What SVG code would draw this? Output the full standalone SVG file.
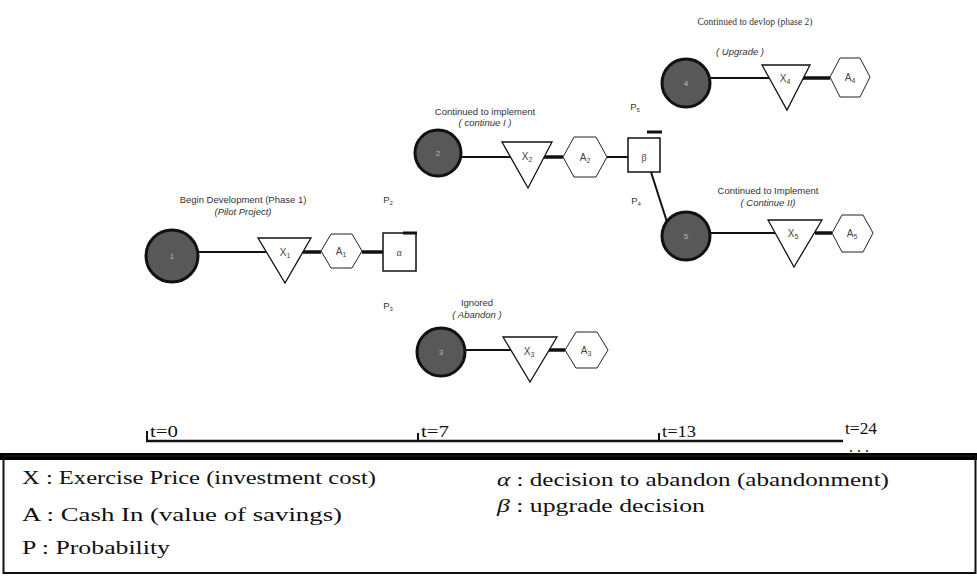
<svg xmlns="http://www.w3.org/2000/svg" width="977" height="577" viewBox="0 0 977 577">
<style>
.node{fill:#585858;stroke:#111;stroke-width:3}
.num{font-family:"Liberation Sans",Arial,sans-serif;font-size:8px;fill:#bbb;text-anchor:middle}
.tri{fill:#fff;stroke:#111;stroke-width:1.3}
.hex{fill:#fff;stroke:#222;stroke-width:1}
.sq{fill:#fff;stroke:#111;stroke-width:1.5}
.lbl{font-family:"Liberation Sans",Arial,sans-serif;font-size:9.5px;fill:#333;text-anchor:middle}
.it{font-style:italic}
.sym{font-family:"Liberation Sans",Arial,sans-serif;font-size:10px;fill:#444;text-anchor:middle}
.ser{font-family:"Liberation Serif","Times New Roman",serif}
.thin{stroke:#111;stroke-width:2;fill:none}
.thick{stroke:#111;stroke-width:3.5;fill:none}
.leg{font-family:"Liberation Serif","Times New Roman",serif;font-size:18px;fill:#111}
.tl{font-family:"Liberation Serif","Times New Roman",serif;font-size:16px;fill:#111}
</style>
<rect width="977" height="577" fill="#fff"/>
<g id="connectors">
<line class="thin" x1="197" y1="252" x2="266" y2="252"/>
<line class="thick" x1="303" y1="252" x2="321" y2="252"/>
<line class="thick" x1="362" y1="252" x2="383" y2="252"/>
<line class="thin" x1="460" y1="157" x2="510" y2="157"/>
<line class="thick" x1="544" y1="157" x2="563" y2="157"/>
<line class="thin" x1="607" y1="157" x2="628" y2="157"/>
<line class="thin" x1="651" y1="172" x2="667" y2="222"/>
<line class="thin" x1="465" y1="350" x2="511" y2="350"/>
<line class="thick" x1="549" y1="350" x2="565" y2="350"/>
<line class="thin" x1="710" y1="78" x2="769" y2="78"/>
<line class="thick" x1="803" y1="78" x2="830" y2="78"/>
<line class="thin" x1="710" y1="233" x2="775" y2="233"/>
<line class="thick" x1="815" y1="233" x2="832" y2="233"/>
</g>
<g id="node1">
<circle class="node" cx="172" cy="256" r="26"/>
<text class="num" x="172" y="259">1</text>
<text class="lbl" x="243" y="203">Begin Development (Phase 1)</text>
<text class="lbl it" x="243" y="215">(Pilot Project)</text>
</g>
<g id="x1"><polygon class="tri" points="258,238 311,238 285,283"/><text class="sym" x="285" y="256">X<tspan font-size="7" dy="2">1</tspan></text></g>
<g id="a1"><polygon class="hex" points="321,251 331,234 352,234 362,251 352,268 331,268"/><text class="sym" x="341" y="255">A<tspan font-size="7" dy="2">1</tspan></text></g>
<g id="alpha">
<rect class="sq" x="383" y="233" width="33" height="38"/>
<line x1="403" y1="233" x2="417" y2="233" stroke="#111" stroke-width="3"/>
<text class="sym ser" x="399" y="256" font-size="13">α</text>
<text class="lbl" x="388" y="203" font-size="9">P<tspan font-size="6" dy="2">2</tspan></text>
<text class="lbl" x="388" y="309" font-size="9">P<tspan font-size="6" dy="2">3</tspan></text>
</g>
<g id="node2">
<circle class="node" cx="438" cy="153" r="23"/>
<text class="num" x="438" y="156">2</text>
<text class="lbl" x="485" y="115">Continued to  implement</text>
<text class="lbl it" x="485" y="126">( continue I )</text>
</g>
<g id="x2"><polygon class="tri" points="502,142 552,142 528,188"/><text class="sym" x="527" y="160">X<tspan font-size="7" dy="2">2</tspan></text></g>
<g id="a2"><polygon class="hex" points="563,157 574,137 596,137 607,157 596,177 574,177"/><text class="sym" x="585" y="161">A<tspan font-size="7" dy="2">2</tspan></text></g>
<g id="beta">
<rect class="sq" x="628" y="138" width="32" height="34"/>
<line x1="647" y1="132" x2="662" y2="132" stroke="#111" stroke-width="3"/>
<text class="sym ser" x="644" y="161" font-size="15">β</text>
<text class="lbl" x="635" y="110" font-size="9">P<tspan font-size="6" dy="2">5</tspan></text>
<text class="lbl" x="636" y="204" font-size="9">P<tspan font-size="6" dy="2">4</tspan></text>
</g>
<g id="node3">
<circle class="node" cx="441" cy="352" r="24"/>
<text class="num" x="441" y="355">3</text>
<text class="lbl" x="477" y="306">Ignored</text>
<text class="lbl it" x="477" y="318">( Abandon )</text>
</g>
<g id="x3"><polygon class="tri" points="503,337 557,337 530,382"/><text class="sym" x="529" y="355">X<tspan font-size="7" dy="2">3</tspan></text></g>
<g id="a3"><polygon class="hex" points="565,350 576,332 597,332 608,350 597,368 576,368"/><text class="sym" x="586" y="354">A<tspan font-size="7" dy="2">3</tspan></text></g>
<g id="node4">
<circle class="node" cx="686" cy="83" r="24"/>
<text class="num" x="686" y="86">4</text>
<text class="lbl ser" x="755" y="25" font-size="10">Continued to devlop (phase 2)</text>
<text class="lbl it" x="740" y="55">( Upgrade )</text>
</g>
<g id="x4"><polygon class="tri" points="762,65 810,65 787,110"/><text class="sym" x="785" y="82">X<tspan font-size="7" dy="2">4</tspan></text></g>
<g id="a4"><polygon class="hex" points="830,77 840,58 860,58 870,77 860,97 840,97"/><text class="sym" x="850" y="81">A<tspan font-size="7" dy="2">4</tspan></text></g>
<g id="node5">
<circle class="node" cx="686" cy="236" r="24"/>
<text class="num" x="686" y="239">5</text>
<text class="lbl" x="768" y="194">Continued to  Implement</text>
<text class="lbl it" x="768" y="206">( Continue II)</text>
</g>
<g id="x5"><polygon class="tri" points="768,220 822,220 794,267"/><text class="sym" x="793" y="237">X<tspan font-size="7" dy="2">5</tspan></text></g>
<g id="a5"><polygon class="hex" points="832,233 842,215 863,215 873,233 863,252 842,252"/><text class="sym" x="852" y="237">A<tspan font-size="7" dy="2">5</tspan></text></g>
<g id="timeline">
<line x1="146" y1="441" x2="843" y2="441" stroke="#111" stroke-width="2.5"/>
<line x1="147" y1="431" x2="147" y2="442" stroke="#111" stroke-width="2"/>
<line x1="418" y1="433" x2="418" y2="442" stroke="#111" stroke-width="2"/>
<line x1="659" y1="433" x2="659" y2="442" stroke="#111" stroke-width="2"/>
<text class="tl" x="150" y="437" textLength="28" lengthAdjust="spacingAndGlyphs">t=0</text>
<text class="tl" x="421" y="437" textLength="28" lengthAdjust="spacingAndGlyphs">t=7</text>
<text class="tl" x="662" y="437" textLength="34" lengthAdjust="spacingAndGlyphs">t=13</text>
<text class="tl" x="845" y="434" textLength="32" lengthAdjust="spacingAndGlyphs">t=24</text>
<text class="tl" x="849" y="452" font-size="8">. . .</text>
</g>
<g id="legend">
<rect x="0" y="453" width="977" height="7" fill="#000"/>
<rect x="3.5" y="456" width="972" height="117" fill="none" stroke="#111" stroke-width="2"/>
<text class="leg" x="22" y="484" textLength="354" lengthAdjust="spacingAndGlyphs">X : Exercise Price  (investment cost)</text>
<text class="leg" x="22" y="521" textLength="320" lengthAdjust="spacingAndGlyphs">A : Cash In (value of savings)</text>
<text class="leg" x="22" y="554" textLength="148" lengthAdjust="spacingAndGlyphs">P : Probability</text>
<text class="leg" x="497" y="486" textLength="392" lengthAdjust="spacingAndGlyphs"><tspan font-style="italic">α</tspan>  : decision to abandon (abandonment)</text>
<text class="leg" x="497" y="512" textLength="208" lengthAdjust="spacingAndGlyphs"><tspan font-style="italic">β</tspan> : upgrade decision</text>
</g>
</svg>
